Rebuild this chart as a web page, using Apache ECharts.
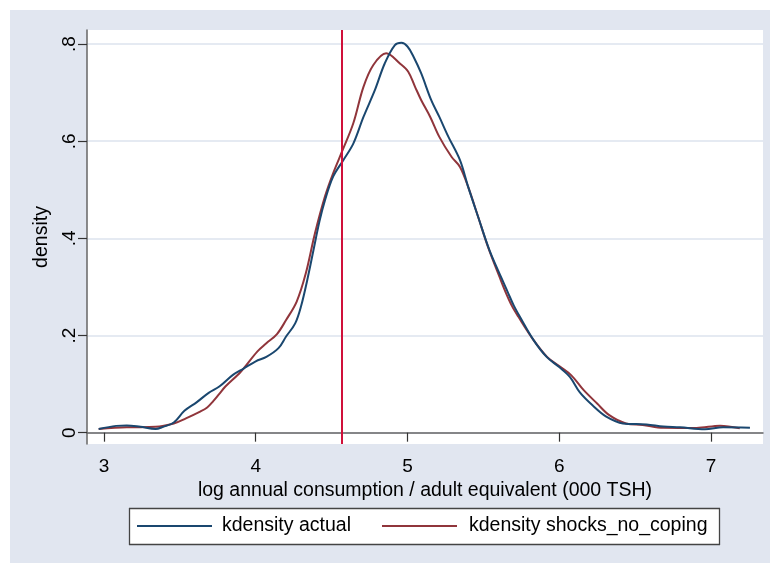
<!DOCTYPE html>
<html><head><meta charset="utf-8">
<script src="https://cdn.jsdelivr.net/npm/echarts@6/dist/echarts.min.js"></script>
<style>html,body{margin:0;padding:0;background:#fff}#c{width:770px;height:565px}</style>
</head><body><div id="c"></div>
<script>
// ---- data ----
const seriesNames = ['kdensity actual', 'kdensity shocks_no_coping'];
const actualX = [2.965,3.08,3.15,3.24,3.34,3.39,3.46,3.53,3.61,3.69,3.76,3.85,3.92,4.00,4.07,4.15,4.20,4.26,4.30,4.34,4.38,4.42,4.456,4.51,4.577,4.643,4.71,4.785,4.85,4.917,4.96,5.00,5.04,5.09,5.156,5.21,5.27,5.346,5.40,5.466,5.54,5.62,5.66,5.70,5.74,5.83,5.917,6.00,6.07,6.136,6.224,6.31,6.42,6.576,6.686,6.796,6.96,7.08,7.257];
const actualY = [0.0076,0.014,0.015,0.012,0.0076,0.012,0.021,0.045,0.0625,0.082,0.095,0.119,0.132,0.147,0.156,0.174,0.198,0.225,0.262,0.315,0.375,0.435,0.478,0.527,0.561,0.595,0.650,0.705,0.760,0.798,0.8025,0.795,0.774,0.740,0.685,0.650,0.609,0.561,0.506,0.444,0.376,0.318,0.290,0.262,0.239,0.191,0.156,0.135,0.115,0.083,0.055,0.033,0.019,0.017,0.0125,0.011,0.007,0.011,0.010];
const shockX = [2.965,3.15,3.34,3.46,3.54,3.63,3.68,3.72,3.76,3.80,3.90,4.01,4.07,4.14,4.20,4.27,4.33,4.39,4.456,4.51,4.573,4.643,4.71,4.775,4.86,4.95,5.005,5.05,5.09,5.15,5.21,5.29,5.346,5.40,5.466,5.53,5.61,5.65,5.69,5.73,5.83,5.92,6.00,6.08,6.16,6.25,6.33,6.44,6.55,6.686,6.905,7.06,7.19];
const shockY = [0.0076,0.011,0.012,0.019,0.0296,0.043,0.052,0.065,0.080,0.095,0.125,0.167,0.184,0.203,0.232,0.270,0.328,0.410,0.486,0.534,0.582,0.637,0.712,0.757,0.781,0.760,0.743,0.712,0.685,0.650,0.609,0.568,0.547,0.506,0.444,0.383,0.318,0.287,0.260,0.239,0.191,0.156,0.137,0.118,0.088,0.060,0.036,0.019,0.016,0.010,0.0097,0.0144,0.009];
const xTicks = [3, 4, 5, 6, 7];
const xTickLabels = ['3', '4', '5', '6', '7'];
const yTicks = [0, 0.2, 0.4, 0.6, 0.8];
const yTickLabels = ['0', '.2', '.4', '.6', '.8'];
const refLineX = [4.573];
const xTitle = 'log annual consumption / adult equivalent (000 TSH)';
const yTitle = 'density';

// ---- chart ----
const FONT = '"Liberation Sans", Arial, Helvetica, sans-serif';
const BLUE = '#1a476f', RED = '#90353b';
const pick = (ticks, labels) => v => {
  const i = ticks.findIndex(t => Math.abs(t - v) < 1e-9);
  return i >= 0 ? labels[i] : '';
};
const chart = echarts.init(document.getElementById('c'), null, {renderer: 'canvas'});
chart.setOption({
  animation: false,
  backgroundColor: '#ffffff',
  textStyle: {fontFamily: FONT},
  graphic: [
    {type: 'rect', z: -10, shape: {x: 10, y: 10, width: 760, height: 553}, style: {fill: '#e1e6f0'}},
    {type: 'rect', z: 1, shape: {x: 129, y: 508, width: 591, height: 37}, style: {fill: '#ffffff'}},
    {type: 'line', z: 20, shape: {x1: 129, y1: 508.5, x2: 720, y2: 508.5}, style: {stroke: '#444', lineWidth: 1.3}},
    {type: 'line', z: 20, shape: {x1: 129, y1: 544.5, x2: 720, y2: 544.5}, style: {stroke: '#444', lineWidth: 1.3}},
    {type: 'line', z: 20, shape: {x1: 129.5, y1: 508, x2: 129.5, y2: 545}, style: {stroke: '#444', lineWidth: 1.3}},
    {type: 'line', z: 20, shape: {x1: 719.5, y1: 508, x2: 719.5, y2: 545}, style: {stroke: '#444', lineWidth: 1.3}}
  ],
  grid: {left: 87, top: 30, right: 7, bottom: 121, show: true, backgroundColor: '#ffffff', borderWidth: 0},
  xAxis: {
    type: 'value', min: 2.888, max: 7.343,
    axisLine: {show: true, lineStyle: {color: '#666', width: 1.5}},
    axisTick: {show: true, customValues: xTicks, length: 9, lineStyle: {color: '#333', width: 1.2}},
    axisLabel: {customValues: xTicks, formatter: pick(xTicks, xTickLabels), fontSize: 19, color: '#000', margin: 13, fontFamily: FONT},
    splitLine: {show: false},
    name: xTitle, nameLocation: 'middle', nameGap: 36,
    nameTextStyle: {fontSize: 19.5, color: '#000', fontFamily: FONT}
  },
  yAxis: {
    type: 'value', min: -0.0233, max: 0.829,
    axisLine: {show: true, lineStyle: {color: '#666', width: 1.5}},
    axisTick: {show: true, customValues: yTicks, length: 9, lineStyle: {color: '#333', width: 1.2}},
    axisLabel: {customValues: yTicks, formatter: pick(yTicks, yTickLabels), fontSize: 19, color: '#000', margin: 8, rotate: 90, fontFamily: FONT},
    splitLine: {show: true, lineStyle: {color: '#dde3ee', width: 1.5}},
    name: yTitle, nameLocation: 'middle', nameGap: 24,
    nameTextStyle: {fontSize: 19.5, color: '#000', fontFamily: FONT}
  },
  legend: [
    {data: [seriesNames[0]], left: 137, top: 516, padding: 0, icon: 'rect', itemWidth: 75, itemHeight: 2,
     textStyle: {fontSize: 19.5, color: '#000', fontFamily: FONT, padding: [0, 0, 0, 5]}},
    {data: [seriesNames[1]], left: 382, top: 516, padding: 0, icon: 'rect', itemWidth: 75, itemHeight: 2,
     textStyle: {fontSize: 19.5, color: '#000', fontFamily: FONT, padding: [0, 0, 0, 7]}}
  ],
  series: [
    {
      name: seriesNames[0], type: 'line', showSymbol: false, smooth: 0.35,
      data: actualX.map((x, i) => [x, actualY[i]]),
      itemStyle: {color: BLUE}, lineStyle: {color: BLUE, width: 2}, z: 3
    },
    {
      name: seriesNames[1], type: 'line', showSymbol: false, smooth: 0.35,
      data: shockX.map((x, i) => [x, shockY[i]]),
      itemStyle: {color: RED}, lineStyle: {color: RED, width: 2}, z: 2,
      markLine: {
        silent: true, symbol: 'none', label: {show: false},
        lineStyle: {color: '#d0103a', width: 2, type: 'solid'},
        data: refLineX.map(v => ({xAxis: v}))
      }
    }
  ]
});
</script></body></html>
